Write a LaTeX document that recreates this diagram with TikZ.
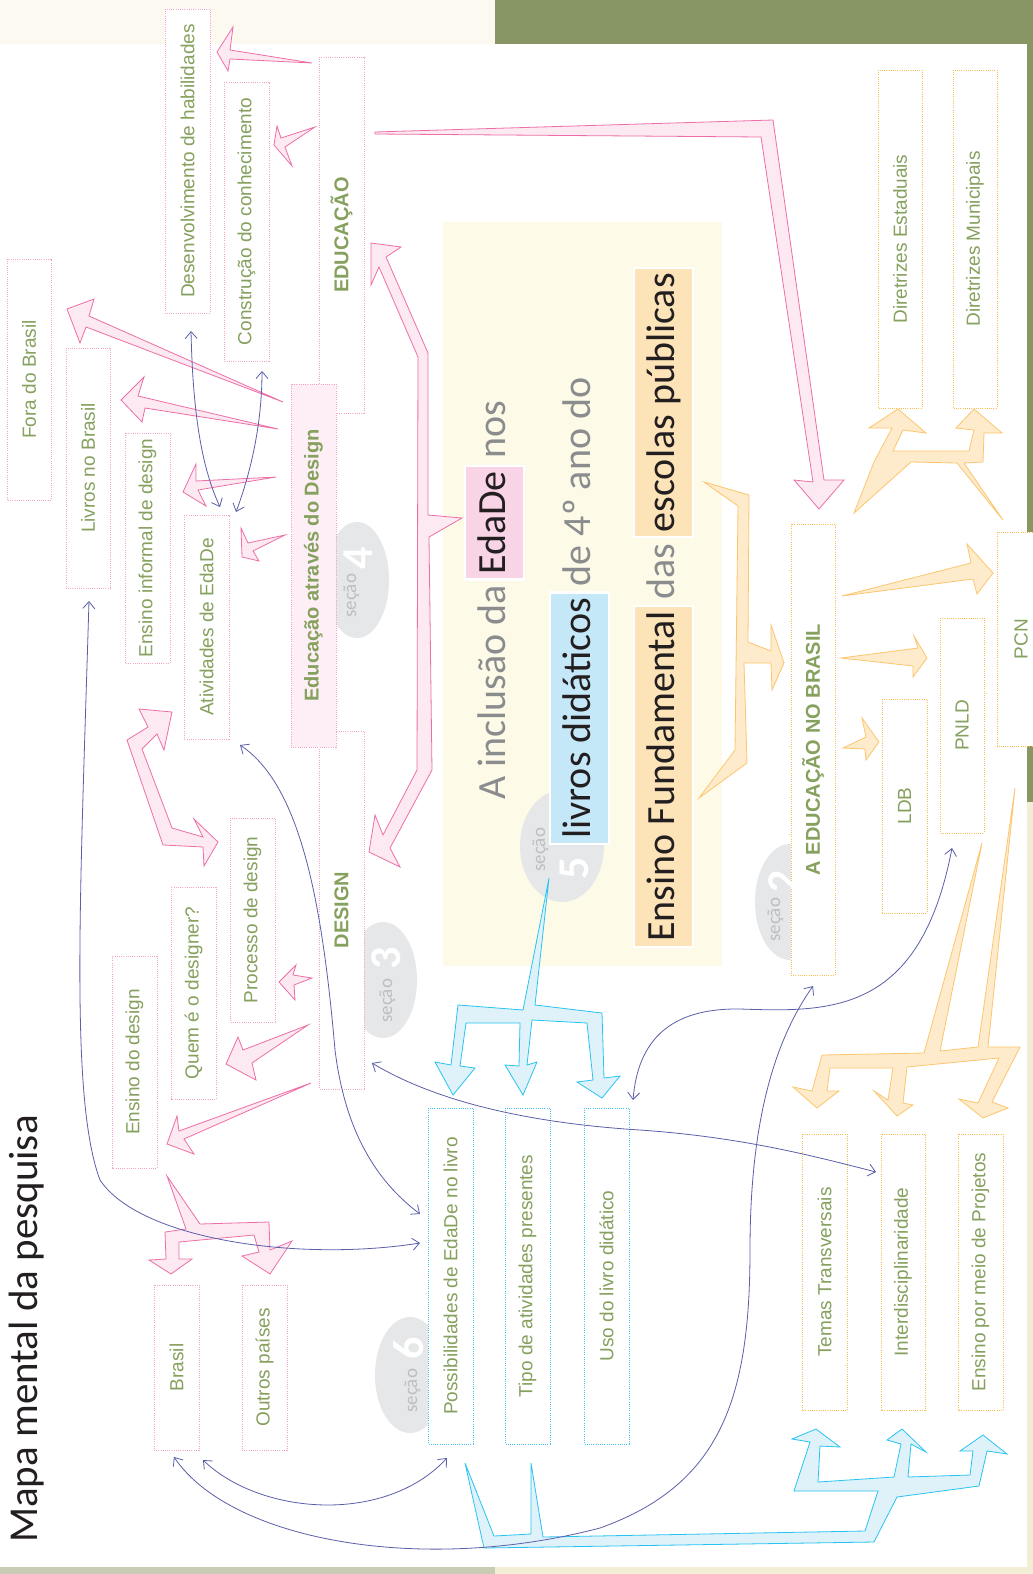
\documentclass[tikz,border=0pt]{standalone}
\usepackage{fontspec}
\setmainfont{Liberation Sans}
\newfontfamily\cfont{Carlito}
\usetikzlibrary{arrows.meta,calc}
\definecolor{lblgreen}{HTML}{86A05E}
\definecolor{boxpink}{HTML}{F5A3C7}
\definecolor{boxblue}{HTML}{3FC3F0}
\definecolor{boxorange}{HTML}{FBBE4E}
\definecolor{pinkline}{HTML}{EE6FA8}
\definecolor{pinkfill}{HTML}{FCE9F1}
\definecolor{blueline}{HTML}{27C4F3}
\definecolor{bluefill}{HTML}{DFF2FA}
\definecolor{orline}{HTML}{FCC66E}
\definecolor{orfill}{HTML}{FEEBCB}
\definecolor{curveblue}{HTML}{5A5FA8}
\definecolor{secgrey}{HTML}{E6E7E8}
\definecolor{sectext}{HTML}{BCBEC0}
\definecolor{ctgrey}{HTML}{8A8C8E}
\definecolor{ctblack}{HTML}{231F20}
\definecolor{hlpink}{HTML}{F9D3E6}
\definecolor{hlblue}{HTML}{C5E8F8}
\definecolor{hlorange}{HTML}{FDE4B8}
\definecolor{panel}{HTML}{FEFAE8}
\definecolor{topcream}{HTML}{FCF9F1}
\definecolor{olive}{HTML}{879662}
\definecolor{sidecream}{HTML}{F4EDD6}
\definecolor{botgrey}{HTML}{C9CCB4}
\definecolor{edudfill}{HTML}{FDEFF5}
\begin{document}
\begin{tikzpicture}[x=1pt,y=-1pt,line join=miter,
  bx/.style={rotate=90, draw, fill=white, line width=0.9pt, dash pattern=on 1pt off 1.2pt,
    inner sep=0pt, text=lblgreen, font=\fontsize{19}{22}\selectfont},
  pbx/.style={bx, draw=boxpink},
  bbx/.style={bx, draw=boxblue},
  obx/.style={bx, draw=boxorange},
  bld/.style={font=\bfseries\fontsize{20}{24}\selectfont},
  parrow/.style={draw=pinkline, fill=pinkfill, line width=0.8pt},
  barrow/.style={draw=blueline, fill=bluefill, line width=0.8pt},
  oarrow/.style={draw=orline, fill=orfill, line width=0.8pt},
  lnk/.style={draw=curveblue, line width=0.8pt,
    {Straight Barb[length=7pt,width=12pt]}-{Straight Barb[length=7pt,width=12pt]}},
  ctxt/.style={rotate=90, font=\cfont\fontsize{40}{48}\selectfont, inner sep=0pt, text=ctgrey},
  hl/.style={ctxt, text=ctblack, draw=white, line width=2.5pt, inner xsep=5pt, inner ysep=0pt,
    text height=40pt, text depth=19pt},
  sectxt/.style={rotate=90, font=\cfont\fontsize{19}{22}\selectfont, text=sectext, inner sep=0pt},
  secnum/.style={rotate=90, font=\cfont\bfseries\fontsize{44}{50}\selectfont, text=white, inner sep=0pt}
]
\useasboundingbox (0,0) rectangle (1033,1574);
% background
\fill[white] (0,0) rectangle (1033,1574);
\fill[topcream] (0,0) rectangle (495,44);
\fill[olive] (495,0) rectangle (1033,44);
\fill[olive] (1027,44) rectangle (1033,802);
\fill[sidecream] (1027,802) rectangle (1033,1574);
\fill[botgrey] (0,1567) rectangle (495,1574);
\fill[sidecream] (495,1567) rectangle (1033,1574);
% central panel
\fill[panel] (443,222) rectangle (722,966);
% section ellipses
\fill[secgrey] (357,580) ellipse [x radius=32, y radius=58];
\fill[secgrey] (383,980) ellipse [x radius=34, y radius=58];
\fill[secgrey] (562,846) ellipse [x radius=42, y radius=56];
\fill[secgrey] (790,902) ellipse [x radius=35, y radius=58];
\fill[secgrey] (410,1375) ellipse [x radius=35, y radius=58];

% boxes
\node[pbx, minimum width=304, minimum height=45] (dev) at (187.5,161) {Desenvolvimento de habilidades};
\node[pbx, minimum width=279, minimum height=45] (con) at (246.5,221.5) {Construção do conhecimento};
\node[pbx, bld, minimum width=356, minimum height=45] (edu) at (341.5,235) {EDUCAÇÃO};
\node[pbx, minimum width=358, minimum height=45, bld] (design) at (341.5,910) {DESIGN};
\node[pbx, minimum width=241, minimum height=44] (fora) at (29,379.5) {Fora do Brasil};
\node[pbx, minimum width=240, minimum height=44] (livros) at (88,468) {Livros no Brasil};
\node[pbx, minimum width=230, minimum height=45] (informal) at (147.5,548) {Ensino informal de design};
\node[pbx, minimum width=224, minimum height=45] (ativ) at (206.5,627) {Atividades de EdaDe};
\node[pbx, bld, fill=edudfill, minimum width=363, minimum height=45] (edud) at (313.5,565.5) {Educação através do Design};
\node[pbx, minimum width=204, minimum height=45] (proc) at (252.5,920) {Processo de design};
\node[pbx, minimum width=212, minimum height=45] (quem) at (193.5,993) {Quem é o designer?};
\node[pbx, minimum width=212, minimum height=45] (ensd) at (134.5,1062) {Ensino do design};
\node[pbx, minimum width=165, minimum height=45] (brasil) at (176.5,1367.5) {Brasil};
\node[pbx, minimum width=165, minimum height=45] (outros) at (264.5,1367.5) {Outros países};
\node[bbx, minimum width=336, minimum height=45] (poss) at (450.5,1276) {Possibilidades de EdaDe no livro};
\node[bbx, minimum width=336, minimum height=45] (tipo) at (527.5,1276) {Tipo de atividades presentes};
\node[bbx, minimum width=336, minimum height=45] (uso) at (606.5,1276) {Uso do livro didático};
\node[obx, minimum width=276, minimum height=45] (temas) at (824.5,1272) {Temas Transversais};
\node[obx, minimum width=276, minimum height=44] (inter) at (903,1272) {Interdisciplinaridade};
\node[obx, minimum width=276, minimum height=45] (proj) at (980.5,1272) {Ensino por meio de Projetos};
\node[obx, minimum width=338, minimum height=44] (dest) at (900,239) {Diretrizes Estaduais};
\node[obx, minimum width=338, minimum height=44] (dmun) at (975,239) {Diretrizes Municipais};
\node[obx, bld, minimum width=451, minimum height=44] (aedu) at (813,749.5) {A EDUCAÇÃO NO BRASIL};
\node[obx, minimum width=214, minimum height=45] (ldb) at (904.5,806) {LDB};
\node[obx, minimum width=215, minimum height=44] (pnld) at (962,725.5) {PNLD};
\node[obx, minimum width=214, minimum height=48] (pcn) at (1021,639) {PCN};

% pink fat arrows
\draw[parrow] (312,63) -- (230,50) -- (233,27) -- (217,52) -- (228,71) -- (230,59) -- cycle;
\draw[parrow] (315,127) -- (281,138) -- (277,126) -- (274,145) -- (292,166) -- (285,147) -- cycle;
\draw[parrow] (375,132) -- (773,120) -- (824,480) -- (844,480) -- (819,509) -- (794,480) -- (813,482) -- (761,137) -- (375,134) -- cycle;
\draw[parrow] (371,243) -- (401,247) -- (386,257) -- (428,353) -- (428,515) -- (462,518) -- (429,537) -- (432,770) -- (390,848) -- (400,867) -- (369,852) -- (375,815) -- (383,835) -- (417,770) -- (418,357) -- (379,267) -- (371,285) -- cycle;
\draw[parrow] (283,402) -- (89,316) -- (94,299) -- (67,309) -- (80,343) -- (86,327) -- cycle;
\draw[parrow] (278,429) -- (138,396) -- (144,377) -- (121,400) -- (142,422) -- (145,408) -- cycle;
\draw[parrow] (276,477) -- (196,481) -- (196,464) -- (183,492) -- (206,506) -- (198,490) -- cycle;
\draw[parrow] (285,535) -- (248,543) -- (241,528) -- (242,557) -- (259,561) -- (253,551) -- cycle;
\draw[parrow] (312,978) -- (293,975) -- (296,965) -- (279,982) -- (295,1000) -- (294,985) -- cycle;
\draw[parrow] (308,1025) -- (243,1050) -- (238,1037) -- (226,1064) -- (256,1080) -- (252,1063) -- cycle;
\draw[parrow] (311,1083) -- (179,1131) -- (177,1116) -- (167,1144) -- (194,1154) -- (184,1139) -- cycle;
\draw[parrow] (172,712) -- (164,750) -- (157,734) -- (142,749) -- (172,828) -- (203,837) -- (194,819) -- (218,842) -- (204,866) -- (203,847) -- (163,845) -- (127,740) -- (148,727) -- (139,709) -- cycle;
\draw[parrow] (167,1176) -- (200,1224) -- (269,1222) -- (270,1250) -- (292,1241) -- (270,1274) -- (242,1256) -- (259,1252) -- (254,1235) -- (179,1242) -- (179,1259) -- (192,1259) -- (171,1274) -- (149,1260) -- (166,1259) -- (165,1232) -- (186,1229) -- cycle;

% blue fat arrows
\draw[barrow] (549,878) -- (535,1005) -- (602,1013) -- (604,1078) -- (620,1076) -- (602,1098) -- (577,1082) -- (593,1080) -- (587,1023) -- (532,1020) -- (527,1065) -- (537,1062) -- (523,1095) -- (505,1065) -- (519,1066) -- (520,1023) -- (466,1023) -- (460,1066) -- (475,1068) -- (453,1095) -- (435,1062) -- (451,1065) -- (458,1005) -- (523,1010) -- cycle;
\draw[barrow] (465,1463) -- (494,1536) -- (531,1534) -- (531,1463) -- (543,1537) -- (865,1531) -- (878,1491) -- (794,1491) -- (810,1442) -- (792,1439) -- (816,1429) -- (840,1447) -- (820,1446) -- (818,1482) -- (894,1477) -- (901,1444) -- (887,1440) -- (902,1429) -- (926,1452) -- (911,1444) -- (908,1477) -- (970,1475) -- (973,1451) -- (960,1451) -- (983,1435) -- (1007,1454) -- (987,1451) -- (979,1486) -- (897,1497) -- (874,1542) -- (484,1548) -- cycle;

% orange fat arrows
\draw[oarrow] (704,482) -- (749,495) -- (748,642) -- (771,651) -- (771,625) -- (784,663) -- (772,690) -- (771,663) -- (744,663) -- (747,763) -- (699,798) -- (735,750) -- (738,506) -- cycle;
\draw[oarrow] (842,596) -- (971,563) -- (967,544) -- (993,573) -- (977,594) -- (973,579) -- cycle;
\draw[oarrow] (841,658) -- (918,648) -- (914,636) -- (927,658) -- (913,677) -- (913,666) -- cycle;
\draw[oarrow] (843,748) -- (866,737) -- (862,718) -- (879,742) -- (866,760) -- (865,749) -- cycle;
\draw[oarrow] (892,428) -- (874,462) -- (854,513) -- (911,462) -- (957,463) -- (1003,520) -- (964,463) -- (983,462) -- (984,433) -- (1002,433) -- (974,409) -- (956,428) -- (974,430) -- (969,451) -- (893,451) -- (903,430) -- (926,433) -- (898,409) -- (869,428) -- cycle;
\draw[oarrow] (982,843) -- (940,1051) -- (978,1047) -- (1015,788) -- (988,1047) -- (1020,1047) -- (992,1102) -- (1008,1108) -- (983,1118) -- (959,1099) -- (978,1103) -- (999,1058) -- (907,1067) -- (903,1103) -- (913,1105) -- (897,1116) -- (874,1091) -- (888,1100) -- (893,1068) -- (830,1068) -- (827,1091) -- (839,1091) -- (817,1108) -- (793,1087) -- (812,1091) -- (822,1055) -- (924,1053) -- cycle;

% link endpoints
\coordinate (ca1) at (191,331); \coordinate (ca2) at (220,507);
\coordinate (cb1) at (262,371); \coordinate (cb2) at (236,512);
\coordinate (cc1) at (89,601);  \coordinate (cc2) at (420,1243);
\coordinate (cd1) at (240,745); \coordinate (cd2) at (420,1214);
\coordinate (ce1) at (372,1063); \coordinate (ce2) at (876,1172);
\coordinate (cf1) at (174,1457); \coordinate (cf2) at (813,986);
\coordinate (cg1) at (203,1460); \coordinate (cg2) at (447,1458);
\coordinate (ch1) at (633,1100); \coordinate (ch2) at (952,848);
% thin curved links
\draw[lnk] (ca1) .. controls (193,420) and (203,470) .. (ca2);
\draw[lnk] (cb1) .. controls (262,430) and (248,480) .. (cb2);
\draw[lnk] (cc1) .. controls (80,900) and (70,1100) .. (100,1180) .. controls (140,1240) and (300,1262) .. (cc2);
\draw[lnk] (cd1) .. controls (300,785) and (322,900) .. (335,1050) .. controls (345,1130) and (375,1180) .. (cd2);
\draw[lnk] (ce1) .. controls (450,1110) and (560,1125) .. (640,1130) .. controls (740,1137) and (810,1155) .. (ce2);
\draw[lnk] (cf1) .. controls (230,1540) and (420,1575) .. (600,1528) .. controls (720,1485) and (750,1400) .. (750,1250) .. controls (750,1120) and (775,1040) .. (cf2);
\draw[lnk] (cg1) .. controls (260,1515) and (385,1525) .. (cg2);
\draw[lnk] (ch1) .. controls (638,1040) and (670,1008) .. (740,1009) .. controls (830,1012) and (920,1015) .. (ch2);

% section labels
\node[sectxt, anchor=base west] (s4a) at (356,618) {seção};
\node[secnum, anchor=base west] (s4b) at (372,570) {4};
\node[sectxt, anchor=base west] (s3a) at (392,1023) {seção};
\node[secnum, anchor=base west] (s3b) at (400,970) {3};
\node[sectxt, anchor=base west] (s2a) at (780,942) {seção};
\begin{scope}
\clip (700,800) rectangle (791,1000);
\node[secnum, anchor=base west] (s2b) at (797,893) {2};
\end{scope}
\node[sectxt, anchor=base west] (s6a) at (417,1413) {seção};
\node[secnum, anchor=base west] (s6b) at (423,1360) {6};
\node[sectxt, anchor=base west] (s5a) at (545,872) {seção};
\node[secnum, anchor=base west] (s5b) at (588,880) {5};

% central headline
\node[ctxt, anchor=base west] (t1a) at (505,800) {A inclusão da};
\node[hl, fill=hlpink, anchor=base west] (t1b) at ($(t1a.base east)+(0,-4)$) {EdaDe};
\node[ctxt, anchor=base west] (t1c) at ($(t1b.base east)+(0,-6)$) {nos};
\node[hl, fill=hlblue, anchor=base west] (t2a) at (590,845) {livros didáticos};
\node[ctxt, anchor=base west] (t2b) at ($(t2a.base east)+(0,-5)$) {de 4º ano do};
\node[hl, fill=hlorange, anchor=base west] (t3a) at (674,948) {Ensino Fundamental};
\node[ctxt, anchor=base west] (t3b) at ($(t3a.base east)+(0,-5)$) {das};
\node[hl, fill=hlorange, anchor=base west] (t3c) at ($(t3b.base east)+(0,-5)$) {escolas públicas};

% title
\node[rotate=90, anchor=base west, inner sep=0pt, text=ctblack, font=\cfont\fontsize{41}{48}\selectfont] (title) at (37,1543) {Mapa mental da pesquisa};
\end{tikzpicture}
\end{document}
